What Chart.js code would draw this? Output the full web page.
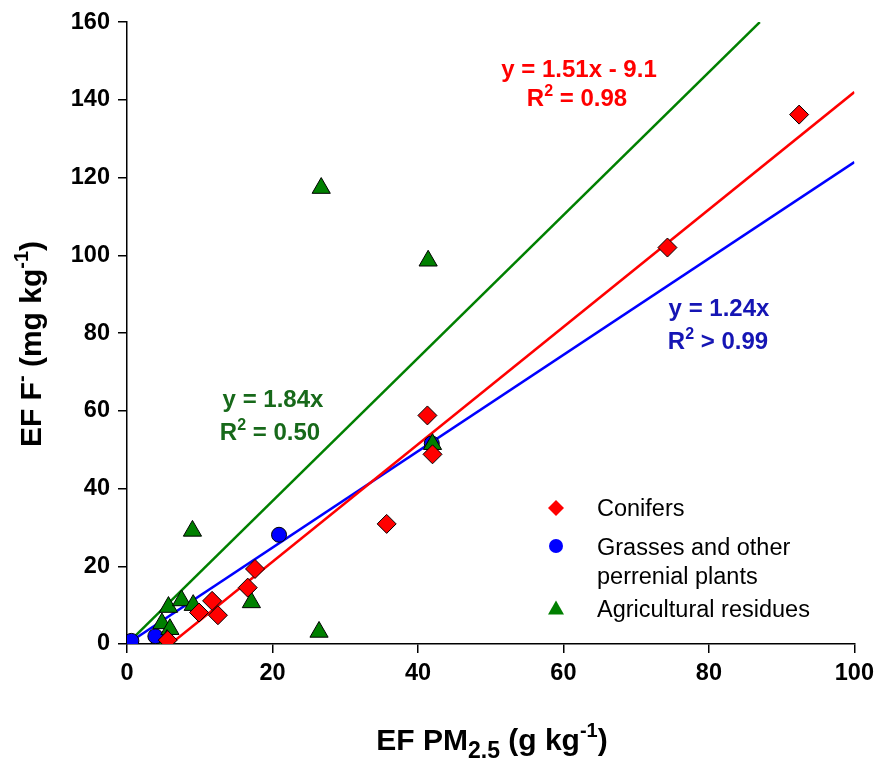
<!DOCTYPE html>
<html>
<head>
<meta charset="utf-8">
<script src="https://cdn.jsdelivr.net/npm/chart.js@4.4.1/dist/chart.umd.min.js"></script>
<style>
  html, body { margin: 0; padding: 0; background: #fff; }
  canvas { display: block; }
</style>
</head>
<body>
<canvas id="myChart" width="880" height="764"></canvas>
<script>
// Data (EF PM2.5 in g/kg, EF F- in mg/kg)
const coniferX = [92.4, 74.3, 41.3, 42.0, 35.7, 17.6, 16.6, 11.7, 9.9, 12.5, 5.6];
const coniferY = [136.2, 102.0, 58.8, 48.8, 30.9, 19.3, 14.5, 11.1, 8.1, 7.4, 1.0];

const grassX = [0.6, 3.9, 20.9, 41.9];
const grassY = [0.8, 2.0, 28.1, 51.6];

const agriX = [26.7, 41.4, 42.0, 9.0, 5.7, 7.5, 9.1, 17.1, 4.8, 5.9, 5.5, 26.4];
const agriY = [117.3, 98.6, 51.4, 29.1, 9.5, 11.2, 10.0, 10.7, 5.3, 3.8, 1.0, 3.1];

// fitted lines, end points as drawn
const coniferFitX = [6.0, 100];
const coniferFitY = [0, 142];
const grassFitX = [0, 100];
const grassFitY = [0, 124];
const agriFitX = [0, 87];
const agriFitY = [0, 160];

const xTicks = [0, 20, 40, 60, 80, 100];
const yTicks = [0, 20, 40, 60, 80, 100, 120, 140, 160];

function toPoints(xs, ys) {
    var pts = [];
    for (var i = 0; i < xs.length; i++) {
        pts.push({ x: xs[i], y: ys[i] });
    }
    return pts;
}

// draws a line of text made of parts, some of them raised or lowered
function drawRich(ctx, parts, cx, baseline, size, weight, color, align) {
    var pieces = parts.map(function (p) {
        var s = size, dy = 0;
        if (p.sup) { s = Math.round(size * 0.65); dy = -size * 0.43; }
        if (p.sub) { s = Math.round(size * 0.75); dy = size * 0.28; }
        ctx.font = weight + " " + s + "px 'Liberation Sans', Arial, sans-serif";
        return { t: p.t, s: s, dy: dy, w: ctx.measureText(p.t).width };
    });
    var total = pieces.reduce(function (a, p) { return a + p.w; }, 0);
    var x = align === "left" ? cx : cx - total / 2;
    ctx.fillStyle = color;
    ctx.textBaseline = "alphabetic";
    ctx.textAlign = "left";
    pieces.forEach(function (p) {
        ctx.font = weight + " " + p.s + "px 'Liberation Sans', Arial, sans-serif";
        ctx.fillText(p.t, x, baseline + p.dy);
        x += p.w;
    });
}

const overlay = {
    id: "overlay",
    afterDraw: function (chart) {
        var ctx = chart.ctx;
        ctx.save();

        // equations
        drawRich(ctx, [{ t: "y = 1.51x - 9.1" }], 579, 77, 24, "bold", "#ff0000");
        drawRich(ctx, [{ t: "R" }, { t: "2", sup: true }, { t: " = 0.98" }], 577, 106, 24, "bold", "#ff0000");
        drawRich(ctx, [{ t: "y = 1.24x" }], 719, 316, 24, "bold", "#1515b4");
        drawRich(ctx, [{ t: "R" }, { t: "2", sup: true }, { t: " > 0.99" }], 718, 349, 24, "bold", "#1515b4");
        drawRich(ctx, [{ t: "y = 1.84x" }], 273, 407, 24, "bold", "#17691a");
        drawRich(ctx, [{ t: "R" }, { t: "2", sup: true }, { t: " = 0.50" }], 270, 440, 24, "bold", "#17691a");

        // legend
        var lx = 556;
        ctx.fillStyle = "#ff0000";
        ctx.beginPath();
        ctx.moveTo(lx - 8, 508); ctx.lineTo(lx, 500); ctx.lineTo(lx + 8, 508); ctx.lineTo(lx, 516);
        ctx.closePath(); ctx.fill();
        ctx.fillStyle = "#0000ff";
        ctx.beginPath(); ctx.arc(lx, 546, 7, 0, Math.PI * 2); ctx.fill();
        ctx.fillStyle = "#008000";
        ctx.beginPath();
        ctx.moveTo(lx, 600.5); ctx.lineTo(lx + 8, 614.5); ctx.lineTo(lx - 8, 614.5);
        ctx.closePath(); ctx.fill();

        drawRich(ctx, [{ t: "Conifers" }], 597, 516, 23.5, "normal", "#000", "left");
        drawRich(ctx, [{ t: "Grasses and other" }], 597, 555, 23.5, "normal", "#000", "left");
        drawRich(ctx, [{ t: "perrenial plants" }], 597, 584, 23.5, "normal", "#000", "left");
        drawRich(ctx, [{ t: "Agricultural residues" }], 597, 617, 23.5, "normal", "#000", "left");

        // axis titles
        drawRich(ctx, [{ t: "EF PM" }, { t: "2.5", sub: true }, { t: " (g kg" }, { t: "-1", sup: true }, { t: ")" }],
            492, 750, 30, "bold", "#000");
        ctx.translate(41, 344);
        ctx.rotate(-Math.PI / 2);
        drawRich(ctx, [{ t: "EF F" }, { t: "-", sup: true }, { t: " (mg kg" }, { t: "-1", sup: true }, { t: ")" }],
            0, 0, 30, "bold", "#000");

        ctx.restore();
    }
};

var data = {
    datasets: [
        {
            label: "Conifers",
            data: toPoints(coniferX, coniferY),
            pointStyle: "rectRot",
            pointRadius: 9.5,
            backgroundColor: "#ff0000",
            borderColor: "#000",
            borderWidth: 1,
            showLine: false
        },
        {
            label: "Agricultural residues",
            data: toPoints(agriX, agriY),
            pointStyle: "triangle",
            pointRadius: 10.5,
            backgroundColor: "#008000",
            borderColor: "#000",
            borderWidth: 1,
            showLine: false
        },
        {
            label: "Grasses and other perrenial plants",
            data: toPoints(grassX, grassY),
            pointStyle: "circle",
            pointRadius: 7.5,
            backgroundColor: "#0000ff",
            borderColor: "#000",
            borderWidth: 1,
            showLine: false
        },
        {
            label: "fit conifers",
            data: toPoints(coniferFitX, coniferFitY),
            showLine: true,
            pointRadius: 0,
            borderColor: "#ff0000",
            borderWidth: 2.5
        },
        {
            label: "fit grasses",
            data: toPoints(grassFitX, grassFitY),
            showLine: true,
            pointRadius: 0,
            borderColor: "#0000ff",
            borderWidth: 2.5
        },
        {
            label: "fit agricultural",
            data: toPoints(agriFitX, agriFitY),
            showLine: true,
            pointRadius: 0,
            borderColor: "#008000",
            borderWidth: 2.5
        }
    ]
};

var config = {
    type: "scatter",
    data: data,
    options: {
        responsive: false,
        animation: false,
        layout: { padding: { left: 0, top: 18, right: 25, bottom: 0 } },
        plugins: {
            legend: { display: false },
            tooltip: { enabled: false }
        },
        scales: {
            x: {
                type: "linear",
                min: 0,
                max: 100,
                afterFit: function (s) { s.height = 120; },
                afterBuildTicks: function (s) { s.ticks = xTicks.map(function (v) { return { value: v }; }); },
                border: { display: true, color: "#000", width: 1.5 },
                grid: { display: true, drawOnChartArea: false, drawTicks: true, tickLength: 9, color: "#000", lineWidth: 1.5 },
                ticks: {
                    color: "#000",
                    padding: 6,
                    maxRotation: 0,
                    font: { family: "'Liberation Sans', Arial, sans-serif", size: 23.5, weight: "bold" }
                }
            },
            y: {
                type: "linear",
                min: 0,
                max: 160,
                afterFit: function (s) { s.width = 127; },
                afterBuildTicks: function (s) { s.ticks = yTicks.map(function (v) { return { value: v }; }); },
                border: { display: true, color: "#000", width: 1.5 },
                grid: { display: true, drawOnChartArea: false, drawTicks: true, tickLength: 9, color: "#000", lineWidth: 1.5 },
                ticks: {
                    color: "#000",
                    padding: 8,
                    font: { family: "'Liberation Sans', Arial, sans-serif", size: 23.5, weight: "bold" }
                }
            }
        }
    },
    plugins: [overlay]
};

var myChart = new Chart(document.getElementById("myChart"), config);
</script>
</body>
</html>
